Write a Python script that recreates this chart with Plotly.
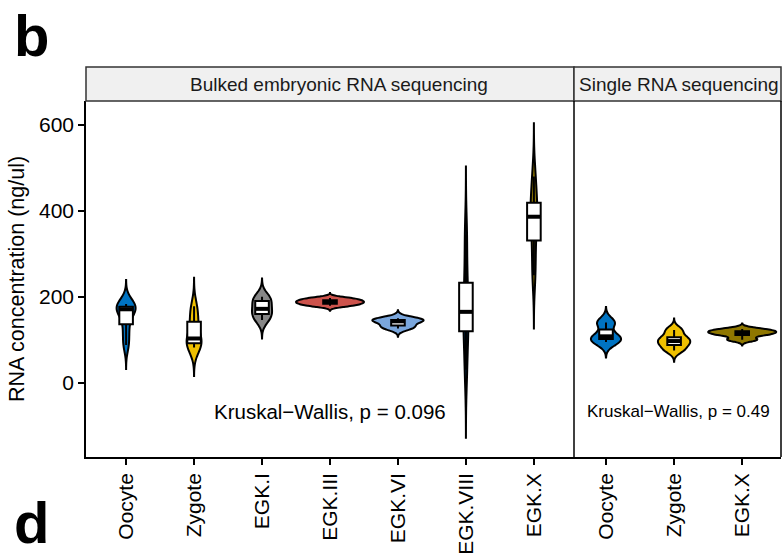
import numpy as np
import plotly.graph_objects as go

# ---- data -------------------------------------------------------------
bulk_stages = ["Oocyte", "Zygote", "EGK.I", "EGK.III", "EGK.VI", "EGK.VIII", "EGK.X"]
single_stages = ["Oocyte", "Zygote", "EGK.X"]

# RNA concentration (ng/ul) of each sample
bulk_oocyte = [88, 120, 152, 171, 175, 179, 183]
bulk_zygote = [82, 88, 96, 103, 130, 154, 178]
bulk_egk1 = [146, 160, 172, 190, 200]
bulk_egk3 = [179, 184, 188, 192, 197]
bulk_egk6 = [126, 133, 143, 146, 150]
bulk_egk8 = [30, 110, 150, 180, 250, 345]
bulk_egk10 = [250, 315, 380, 393, 428, 480]

single_oocyte = [95, 108, 140]
single_zygote = [75, 88, 97, 106, 123]
single_egk10 = [100, 111, 116, 120, 125]

bulk_p = "0.096"
single_p = "0.49"

yticks = [0, 200, 400, 600]

# JCO palette
stage_colors = {
    "Oocyte": "#0073C2", "Zygote": "#EFC000", "EGK.I": "#868686",
    "EGK.III": "#CD534C", "EGK.VI": "#7AA6DC", "EGK.VIII": "#003C67",
    "EGK.X": "#8F7700",
}

bulk_values = [bulk_oocyte, bulk_zygote, bulk_egk1, bulk_egk3,
               bulk_egk6, bulk_egk8, bulk_egk10]
single_values = [single_oocyte, single_zygote, single_egk10]

# ---- geometry of the page (pixels) ------------------------------------
W, H = 782, 555
L, R, T, B = 86, 1, 101, 98
PW, PH = W - L - R, H - T - B
split_px = 574
d1 = (split_px - L) / PW


def px_x(px):
    return (px - L) / PW


def px_y(py):
    return (H - B - py) / PH


def nrd0(v):
    v = np.asarray(v, float)
    sd = v.std(ddof=1)
    q1, q3 = np.percentile(v, [25, 75])
    lo = min(sd, (q3 - q1) / 1.34)
    if lo <= 0:
        lo = sd if sd > 0 else 1.0
    return 0.9 * lo * len(v) ** -0.2


def box_stats(v):
    v = np.asarray(v, float)
    q1, med, q3 = np.percentile(v, [25, 50, 75])
    iqr = q3 - q1
    lo = v[v >= q1 - 1.5 * iqr].min()
    hi = v[v <= q3 + 1.5 * iqr].max()
    return q1, med, q3, lo, hi


fig = go.Figure()


def add_panel(stages, values, xaxis, group):
    med_x, med_y = [], []
    for i, (stage, vals) in enumerate(zip(stages, values)):
        pos = i + 1
        bw = nrd0(vals)
        # violins in one panel share a scale group, so widths follow density
        fig.add_trace(go.Violin(
            x=[pos] * len(vals), y=vals, xaxis=xaxis, yaxis="y",
            name=stage, fillcolor=stage_colors[stage], opacity=1,
            line=dict(color="black", width=2),
            bandwidth=bw, spanmode="manual",
            span=[min(vals) - 3 * bw, max(vals) + 3 * bw],
            scalegroup=group, scalemode="width",
            points=False, box_visible=False, meanline_visible=False,
            showlegend=False, hoverinfo="skip",
        ))
    for i, (stage, vals) in enumerate(zip(stages, values)):
        pos = i + 1
        q1, med, q3, lo, hi = box_stats(vals)
        fig.add_trace(go.Box(
            x=[pos], q1=[q1], median=[med], q3=[q3],
            lowerfence=[lo], upperfence=[hi],
            xaxis=xaxis, yaxis="y", width=0.2, whiskerwidth=0,
            fillcolor="white", line=dict(color="black", width=2),
            boxpoints=False, showlegend=False, hoverinfo="skip",
        ))
        med_x += [pos - 0.1, pos + 0.1, None]
        med_y += [med, med, None]
    fig.add_trace(go.Scatter(
        x=med_x, y=med_y, xaxis=xaxis, yaxis="y", mode="lines",
        line=dict(color="black", width=4), showlegend=False, hoverinfo="skip",
    ))


add_panel(bulk_stages, bulk_values, "x", "bulk")
add_panel(single_stages, single_values, "x2", "single")

axis_common = dict(
    showline=True, linecolor="black", linewidth=1.5, mirror=False,
    ticks="outside", ticklen=6, tickwidth=1.5, tickcolor="black",
    showgrid=False, zeroline=False,
    tickfont=dict(size=21, color="black"),
)

fig.update_layout(
    width=W, height=H,
    margin=dict(l=L, r=R, t=T, b=B, pad=0),
    plot_bgcolor="white", paper_bgcolor="white",
    violinmode="overlay", violingap=0, violingroupgap=0,
    boxmode="overlay", showlegend=False,
    font=dict(family="Liberation Sans, Arial, sans-serif", color="black"),
    xaxis=dict(domain=[0, d1], range=[0.41, 7.59], anchor="y",
               tickmode="array", tickvals=list(range(1, len(bulk_stages) + 1)),
               ticktext=bulk_stages, tickangle=-90, **axis_common),
    xaxis2=dict(domain=[d1, 1], range=[0.53, 3.57], anchor="y",
                tickmode="array", tickvals=list(range(1, len(single_stages) + 1)),
                ticktext=single_stages, tickangle=-90, **axis_common),
    yaxis=dict(range=[-173, 656], tickmode="array", tickvals=yticks,
               title=dict(text="RNA concentration (ng/ul)",
                          font=dict(size=21.5, color="black"), standoff=8),
               **axis_common),
)

strip_h = 34 / PH
shapes = []
for x0, x1 in [(0, d1), (d1, 1)]:
    shapes.append(dict(type="rect", xref="paper", yref="paper",
                       x0=x0, x1=x1, y0=1, y1=1 + strip_h,
                       fillcolor="#f0f0f0", line=dict(color="#333333", width=1.5),
                       layer="above"))
for x in (d1, 1):
    shapes.append(dict(type="line", xref="paper", yref="paper",
                       x0=x, x1=x, y0=0, y1=1,
                       line=dict(color="black", width=1.5)))
fig.update_layout(shapes=shapes)

annotations = [
    dict(text="Bulked embryonic RNA sequencing", xref="paper", yref="paper",
         x=px_x(339), y=1 + strip_h / 2, showarrow=False,
         font=dict(size=19, color="#1a1a1a"), xanchor="center", yanchor="middle"),
    dict(text="Single RNA sequencing", xref="paper", yref="paper",
         x=px_x(679), y=1 + strip_h / 2, showarrow=False,
         font=dict(size=19, color="#1a1a1a"), xanchor="center", yanchor="middle"),
    dict(text="Kruskal\u2212Wallis, p = " + bulk_p, xref="x", yref="y",
         x=4, y=-66, showarrow=False, font=dict(size=20.5, color="black"),
         xanchor="center", yanchor="middle"),
    dict(text="Kruskal\u2212Wallis, p = " + single_p, xref="x2", yref="y",
         x=2.06, y=-66, showarrow=False, font=dict(size=17, color="black"),
         xanchor="center", yanchor="middle"),
    dict(text="<b>b</b>", xref="paper", yref="paper",
         x=px_x(12), y=px_y(36), showarrow=False,
         font=dict(size=58, color="black"), xanchor="left", yanchor="middle"),
    dict(text="<b>d</b>", xref="paper", yref="paper",
         x=px_x(12), y=px_y(522), showarrow=False,
         font=dict(size=58, color="black"), xanchor="left", yanchor="middle"),
]
fig.update_layout(annotations=annotations)

fig.write_html("out.html")
